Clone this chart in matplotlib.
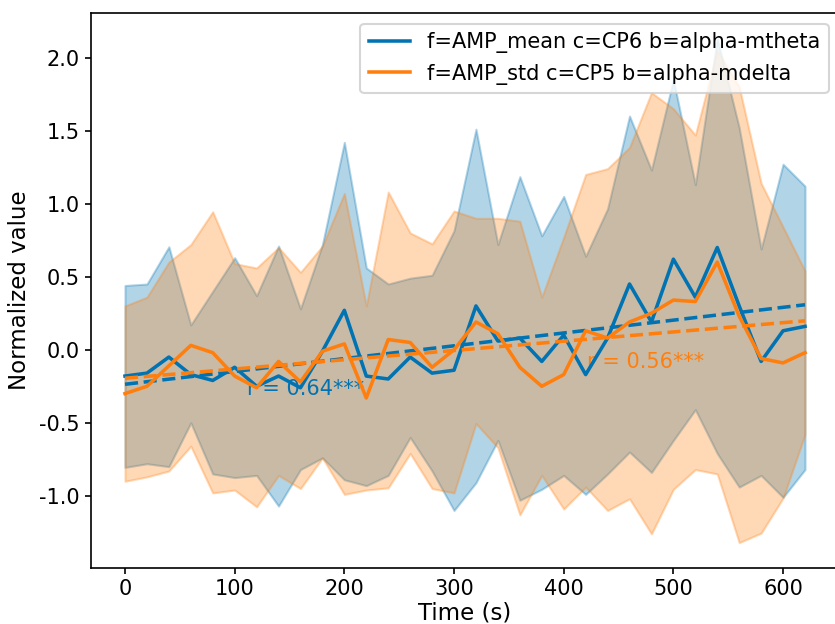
import numpy as np
import matplotlib
matplotlib.use('Agg')
import matplotlib.pyplot as plt

plt.rcParams['font.size'] = 10
plt.rcParams['axes.labelsize'] = 11
plt.rcParams['axes.unicode_minus'] = False
plt.rcParams['xtick.major.size'] = 3
plt.rcParams['ytick.major.size'] = 3
plt.rcParams['xtick.major.pad'] = 2.5
plt.rcParams['ytick.major.pad'] = 2.5

# time axis (s)
time_s = list(range(0, 640, 20))

# f=AMP_mean c=CP6 b=alpha-mtheta
mean_a = [-0.18, -0.16, -0.05, -0.17, -0.21, -0.12, -0.25, -0.18, -0.26, -0.01,
          0.27, -0.18, -0.20, -0.05, -0.16, -0.14, 0.30, 0.06, 0.08, -0.08,
          0.10, -0.17, 0.08, 0.45, 0.19, 0.62, 0.36, 0.70, 0.30, -0.08,
          0.13, 0.16]
upper_a = [0.44, 0.45, 0.705, 0.17, 0.40, 0.63, 0.37, 0.71, 0.28, 0.72,
           1.42, 0.56, 0.45, 0.49, 0.51, 0.815, 1.51, 0.72, 1.185, 0.78,
           1.05, 0.64, 0.965, 1.60, 1.23, 1.85, 1.13, 2.13, 1.52, 0.69,
           1.27, 1.12]
lower_a = [-0.805, -0.78, -0.80, -0.50, -0.85, -0.875, -0.86, -1.07, -0.82, -0.74,
           -0.89, -0.93, -0.86, -0.60, -0.83, -1.10, -0.91, -0.62, -1.03, -0.955,
           -0.86, -0.99, -0.85, -0.70, -0.84, -0.62, -0.41, -0.71, -0.94, -0.86,
           -1.01, -0.82]

# f=AMP_std c=CP5 b=alpha-mdelta
mean_b = [-0.30, -0.25, -0.11, 0.03, -0.02, -0.18, -0.26, -0.08, -0.22, -0.01,
          0.04, -0.33, 0.07, 0.05, -0.12, 0.00, 0.19, 0.11, -0.12, -0.25,
          -0.17, 0.13, 0.08, 0.19, 0.25, 0.34, 0.33, 0.60, 0.23, -0.06,
          -0.09, -0.02]
upper_b = [0.30, 0.36, 0.60, 0.72, 0.945, 0.59, 0.56, 0.70, 0.53, 0.71,
           1.07, 0.30, 1.08, 0.80, 0.725, 0.95, 0.90, 0.90, 0.88, 0.36,
           0.77, 1.20, 1.24, 1.385, 1.76, 1.65, 1.47, 2.05, 1.80, 1.14,
           0.84, 0.54]
lower_b = [-0.90, -0.87, -0.83, -0.66, -0.98, -0.96, -1.075, -0.86, -0.95, -0.74,
           -0.99, -0.96, -0.945, -0.71, -0.95, -0.98, -0.505, -0.67, -1.13, -0.86,
           -1.09, -0.94, -1.10, -1.02, -1.26, -0.955, -0.82, -0.85, -1.32, -1.255,
           -1.015, -0.58]

labels = ['f=AMP_mean c=CP6 b=alpha-mtheta', 'f=AMP_std c=CP5 b=alpha-mdelta']
r_texts = ['r = 0.64***', 'r = 0.56***']
r_pos = [(111, -0.27), (421, -0.087)]
colors = ['#0173B2', '#FF7F0E']

fig = plt.figure(figsize=(835 / 150, 624 / 150), dpi=150)
ax = fig.add_axes([91 / 835, 56.2 / 624, 748 / 835, 554.4 / 624])

t = np.array(time_s)
series = [(mean_a, upper_a, lower_a), (mean_b, upper_b, lower_b)]
for (m, up, lo), lab, col, txt, pos in zip(series, labels, colors, r_texts, r_pos):
    m = np.array(m)
    ax.fill_between(t, lo, up, color=col, alpha=0.3)
    ax.plot(t, m, color=col, lw=1.7, label=lab, zorder=3)
    k, b = np.polyfit(t, m, 1)
    ax.plot(t, k * t + b, '--', color=col, lw=1.7, zorder=3)
    ax.text(pos[0], pos[1], txt, color=col, ha='left', va='center', zorder=2)

ax.set_xlabel('Time (s)', labelpad=1)
ax.set_ylabel('Normalized value', labelpad=4)
ax.legend(loc='upper right')

fig.savefig('out.png', dpi=150)
